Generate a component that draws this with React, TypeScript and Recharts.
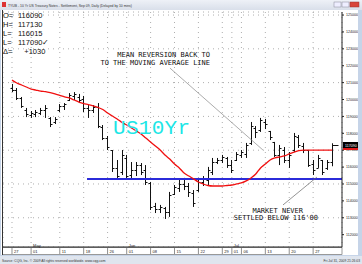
import React from 'react'
import {
  ComposedChart,
  Bar,
  Line,
  XAxis,
  YAxis,
  CartesianGrid,
  ReferenceLine,
} from 'recharts'

// trading days, Apr 27 - Jul 31 2009
const dates = [
  '04-27', '04-28', '04-29', '04-30',
  '05-01', '05-04', '05-05', '05-06', '05-07', '05-08', '05-11', '05-12', '05-13', '05-14', '05-15',
  '05-18', '05-19', '05-20', '05-21', '05-22', '05-26', '05-27', '05-28', '05-29',
  '06-01', '06-02', '06-03', '06-04', '06-05', '06-08', '06-09', '06-10', '06-11', '06-12',
  '06-15', '06-16', '06-17', '06-18', '06-19', '06-22', '06-23', '06-24', '06-25', '06-26', '06-29', '06-30',
  '07-01', '07-02', '07-06', '07-07', '07-08', '07-09', '07-10', '07-13', '07-14', '07-15', '07-16', '07-17',
  '07-20', '07-21', '07-22', '07-23', '07-24', '07-27', '07-28', '07-29', '07-30', '07-31',
]

const opens = [
  120.68, 120.56, 120.09, 119.38, 119.08, 119.14, 119.2, 119.38, 118.91, 118.67, 119.38, 119.62, 119.97, 120.21,
  120.15, 120.03, 119.5, 119.38, 119.56, 118.37, 117.72, 117.01, 115.95, 115.71, 116.54, 115.53, 115.83, 116.12,
  115.83, 115.06, 113.7, 113.52, 113.58, 113.34, 114.41, 114.76, 115.0, 114.88, 114.47, 114.64, 115.12, 115.24,
  115.71, 116.3, 116.42, 116.54, 116.12, 116.42, 116.72, 116.78, 117.43, 118.31, 118.2, 118.67, 118.14, 117.49,
  116.72, 117.01, 116.42, 117.01, 117.78, 117.25, 117.01, 116.18, 115.95, 116.42, 115.95, 116.28,
]
const highs = [
  120.92, 120.68, 120.15, 119.5, 119.32, 119.38, 119.5, 119.67, 118.96, 118.96, 119.73, 119.79, 120.38, 120.44,
  120.33, 120.21, 119.67, 119.67, 119.79, 118.49, 117.84, 117.01, 116.42, 117.01, 116.72, 116.3, 116.3, 116.24,
  116.12, 115.12, 113.88, 113.76, 113.64, 114.53, 114.94, 115.24, 115.36, 115.06, 114.64, 115.36, 115.47, 116.01,
  116.54, 116.54, 116.72, 116.6, 116.42, 116.89, 117.01, 117.43, 118.67, 118.43, 118.91, 118.85, 118.14, 117.49,
  117.31, 117.19, 116.89, 118.02, 117.9, 117.43, 117.01, 116.42, 116.72, 116.42, 116.42, 117.41,
]
const lows = [
  120.44, 119.97, 119.5, 118.96, 118.91, 118.96, 119.08, 118.91, 118.37, 118.55, 119.26, 119.38, 119.91, 119.97,
  119.79, 119.26, 118.91, 119.2, 118.31, 117.6, 117.01, 115.71, 115.24, 115.53, 115.24, 115.24, 115.47, 115.53,
  114.94, 113.46, 113.28, 113.28, 112.93, 113.05, 114.35, 114.53, 114.64, 114.23, 113.64, 114.53, 114.88, 114.94,
  115.53, 116.18, 116.24, 115.95, 115.65, 116.36, 116.54, 116.54, 117.31, 117.72, 118.08, 118.25, 117.6, 116.6,
  116.12, 116.24, 115.95, 116.89, 117.13, 116.83, 116.01, 115.53, 115.95, 115.53, 115.83, 116.05,
]
const closes = [
  120.56, 120.09, 119.62, 119.14, 119.2, 119.26, 119.38, 119.5, 118.55, 118.85, 119.62, 119.73, 120.27, 120.33,
  119.97, 119.5, 119.38, 119.56, 118.43, 117.72, 117.19, 115.95, 115.47, 116.72, 115.47, 115.83, 116.12, 115.71,
  115.12, 113.64, 113.52, 113.64, 113.34, 114.35, 114.82, 115.0, 114.88, 114.53, 113.88, 115.12, 115.3, 115.83,
  116.3, 116.42, 116.6, 116.12, 115.83, 116.78, 116.89, 117.31, 118.43, 118.08, 118.79, 118.55, 117.78, 116.72,
  117.13, 116.42, 116.72, 117.84, 117.31, 117.01, 116.12, 115.83, 116.54, 115.71, 116.3, 117.28,
]
// moving average as drawn
const movingAvg = [
  121.15, 120.98, 120.86, 120.74, 120.62, 120.56, 120.5, 120.47, 120.41, 120.33, 120.24, 120.15, 120.09, 119.97,
  119.85, 119.76, 119.7, 119.62, 119.53, 119.41, 119.2, 119.02, 118.85, 118.64, 118.49, 118.31, 118.14, 117.96,
  117.72, 117.49, 117.25, 117.01, 116.72, 116.48, 116.18, 115.95, 115.65, 115.47, 115.3, 115.12, 115.0, 114.91,
  114.88, 114.88, 114.88, 114.91, 114.94, 115.0, 115.06, 115.18, 115.36, 115.59, 115.95, 116.18, 116.42, 116.54,
  116.6, 116.66, 116.78, 116.89, 116.98, 117.01, 117.01, 117.01, 117.01, 117.01, 117.01, 117.01,
]

const SUPPORT = 115.3
const SUPPORT_FROM = 15.7
const priceTicks = [112, 113, 114, 115, 116, 117, 118, 119, 120, 121, 122, 123, 124, 125]
const tickDates = ['04-27', '05-01', '05-11', '05-18', '05-26', '06-01', '06-08', '06-15', '06-22', '06-29', '07-01', '07-06', '07-13', '07-20', '07-27']
const monthNames: Record<string, string> = { '05': 'May', '06': 'Jun', '07': 'Jul' }
const legendRows = [
  ['O=', '116090'],
  ['H=', '117130'],
  ['L=', '116015'],
  ['L=', '117090\u2713'],
  ['\u0394=', '   +1030'],
]

const data = dates.map((d, i) => ({
  i,
  date: d,
  open: opens[i],
  high: highs[i],
  low: lows[i],
  close: closes[i],
  ma: movingAvg[i],
}))
const tickIdx = tickDates.map((d) => dates.indexOf(d))
const lastIdx = dates.length - 1

function OhlcShape(props: any) {
  const { x, y, width, height, payload } = props
  if (!payload) return null
  const cx = Math.round(x + width / 2) + 0.5
  const span = payload.high - payload.low || 1
  const yOf = (v: number) => Math.round(y + ((payload.high - v) / span) * height) + 0.5
  const right = payload.i === lastIdx ? 6 : 2
  return (
    <g stroke="#111" strokeWidth={1}>
      <line x1={cx} x2={cx} y1={y} y2={y + height} />
      <line x1={cx - 2} x2={cx} y1={yOf(payload.open)} y2={yOf(payload.open)} />
      <line x1={cx} x2={cx + right} y1={yOf(payload.close)} y2={yOf(payload.close)} />
    </g>
  )
}

function DateTick(props: any) {
  const { x, y, payload } = props
  const d = dates[payload.value] || ''
  const [mm, dd] = d.split('-')
  const first = dd === '01' && monthNames[mm]
  return (
    <g>
      <line x1={x} x2={x} y1={y + 1} y2={y + 7} stroke="#444" strokeWidth={0.6} />
      <text x={x + 2} y={y + 6} fontSize={4} fill="#222" fontFamily="Liberation Sans, Arial">
        {dd}
      </text>
      {first && (
        <text x={x + 2} y={y - 0.5} fontSize={4} fill="#222" fontFamily="Liberation Sans, Arial">
          {monthNames[mm]}
        </text>
      )}
    </g>
  )
}

export default function App() {
  const ann = { fontFamily: 'DejaVu Sans Mono, monospace', fontSize: 7, fill: '#111' }
  return (
    <div style={{ position: 'relative', width: 362, height: 264, background: '#c6d4e8', overflow: 'hidden' }}>
      <style>{'body{margin:0}'}</style>
      {/* title bar */}
      <div style={{ position: 'absolute', left: 0, top: 0, width: 362, height: 10, background: 'linear-gradient(#eef1f7,#d9dfea)' }} />
      <svg width={362} height={264} style={{ position: 'absolute', left: 0, top: 0 }}>
        <rect x={2} y={2} width={4} height={5} fill="#d33" />
        <text x={8} y={7} fontSize={3.4} fill="#333" fontFamily="Liberation Sans, Arial">
          TYUB - 10 Yr US Treasury Notes - Settlement, Sep 09, Daily (Delayed by 10 mins)
        </text>
        <rect x={334} y={2} width={7} height={5} fill="#eef" stroke="#889" strokeWidth={0.5} />
        <rect x={342} y={2} width={7} height={5} fill="#eef" stroke="#889" strokeWidth={0.5} />
        <rect x={350} y={2} width={9} height={5} fill="#d8443a" stroke="#933" strokeWidth={0.5} />
        {/* chart panel */}
        <rect x={1} y={10} width={357} height={245} fill="#fff" />
        <rect x={2.5} y={247.5} width={339.5} height={7} fill="none" stroke="#555" strokeWidth={0.6} />
        {/* footer */}
        <rect x={0} y={256} width={362} height={8} fill="#dfe5ee" />
        <text x={2} y={262} fontSize={3.3} fill="#333" fontFamily="Liberation Sans, Arial">
          Source: CQG, Inc. © 2009 All rights reserved worldwide. www.cqg.com
        </text>
        <text x={360} y={262} fontSize={3.3} fill="#333" textAnchor="end" fontFamily="Liberation Sans, Arial">
          Fri Jul 31, 2009 21:26:03
        </text>
      </svg>
      <div style={{ position: 'absolute', left: 0, top: 0 }}>
        <ComposedChart width={358} height={255} data={data} margin={{ top: 12, right: 0, left: 3, bottom: 0 }}>
          <CartesianGrid stroke="#999" strokeDasharray="1 4" strokeWidth={0.8} />
          <XAxis
            dataKey="i"
            type="number"
            domain={[-1.88, 69.04]}
            ticks={tickIdx}
            interval={0}
            height={8}
            tickLine={false}
            tickSize={0}
            tickMargin={0}
            axisLine={{ stroke: '#222' }}
            tick={<DateTick />}
            allowDataOverflow
          />
          <YAxis
            orientation="right"
            type="number"
            domain={[111.27, 125.18]}
            ticks={priceTicks}
            width={16}
            tickSize={2}
            tickLine={{ stroke: '#222' }}
            axisLine={{ stroke: '#222' }}
            tick={{ fontSize: 3.6, fill: '#222', fontFamily: 'Liberation Sans, Arial' }}
            tickFormatter={(v: number) => `${v}000`}
            allowDataOverflow
          />
          <ReferenceLine
            segment={[{ x: SUPPORT_FROM, y: SUPPORT }, { x: 69.04, y: SUPPORT }]}
            stroke="#2b2bd9"
            strokeWidth={2}
            ifOverflow="visible"
          />
          <Bar dataKey={(d: any) => [d.low, d.high]} barSize={4} shape={<OhlcShape />} isAnimationActive={false} />
          <Line type="monotone" dataKey="ma" stroke="#f01010" strokeWidth={1.3} dot={false} isAnimationActive={false} />
          <ReferenceLine segment={[{ x: 33.05, y: 121.86 }, { x: 52.5, y: 117.01 }]} stroke="#888" strokeWidth={0.7} />
          <ReferenceLine segment={[{ x: 56.7, y: 113.76 }, { x: 63.8, y: 115.41 }]} stroke="#666" strokeWidth={0.7} />
        </ComposedChart>
      </div>
      <svg width={362} height={264} style={{ position: 'absolute', left: 0, top: 0, pointerEvents: 'none' }}>
        <line x1={2.5} x2={2.5} y1={10} y2={255} stroke="#333" />
        {legendRows.map((r, k) => (
          <g key={k} fontFamily="Liberation Sans, Arial" fontSize={7.5} fill="#111">
            <text x={3} y={18 + k * 9}>{r[0]}</text>
            <text x={18} y={18 + k * 9} style={{ whiteSpace: 'pre' }}>{r[1]}</text>
          </g>
        ))}
        <text x={210} y={57} textAnchor="end" {...ann}>MEAN REVERSION BACK TO</text>
        <text x={210} y={65} textAnchor="end" {...ann}>TO THE MOVING AVERAGE LINE</text>
        <text x={113} y={134} fontFamily="Liberation Mono, monospace" fontSize={21} fill="#1de6e6" textLength={77}>
          US10Yr
        </text>
        <text x={303} y={213} textAnchor="end" {...ann}>MARKET NEVER</text>
        <text x={318} y={220} textAnchor="end" {...ann}>SETTLED BELOW 116'00</text>
        <rect x={343} y={142} width={15} height={6} fill="#000" />
        <rect x={343} y={148} width={15} height={2} fill="#e01818" />
        <text x={345} y={147} fontSize={3.6} fill="#fff" fontFamily="Liberation Sans, Arial">117090</text>
      </svg>
    </div>
  )
}
